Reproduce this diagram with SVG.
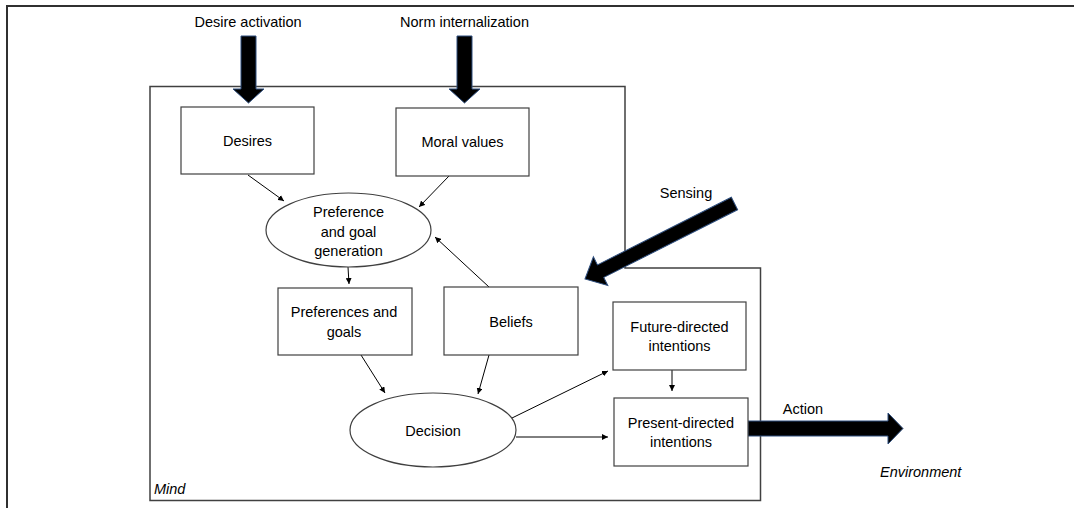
<svg xmlns="http://www.w3.org/2000/svg" width="1074" height="508" viewBox="0 0 1074 508">
  <style>
    text { font-family: "Liberation Sans", Arial, sans-serif; font-size: 14.5px; fill: #000; text-anchor: middle; }
    .it { font-style: italic; text-anchor: start; }
    .box { fill: #fff; stroke: #404040; stroke-width: 1.2; }
    .frame { fill: none; stroke: #404040; stroke-width: 1.5; }
    .outer { fill: none; stroke: #303030; stroke-width: 2; }
    .conn { stroke: #000; stroke-width: 1; fill: none; marker-end: url(#ah); }
    .block { fill: #000; stroke: #2f4f7f; stroke-width: 1; }
  </style>
  <defs>
    <marker id="ah" viewBox="0 0 10 10" refX="10" refY="5" markerWidth="6" markerHeight="6" markerUnits="userSpaceOnUse" orient="auto">
      <path d="M0,0 L10,5 L0,10 z" fill="#000"/>
    </marker>
  </defs>
  <rect width="1074" height="508" fill="#fff"/>
  <g id="outer-frame">
    <path class="outer" d="M7,508 L7,6 L1074,6"/>
  </g>
  <g id="mind">
    <path class="frame" d="M150,86.5 L625,86.5 L625,268 L760.5,268 L760.5,500.5 L150,500.5 Z"/>
    <text class="it" x="154" y="494">Mind</text>
  </g>
  <g id="environment">
    <text class="it" x="880" y="477">Environment</text>
  </g>
  <g id="desire-activation">
    <text x="248" y="27">Desire activation</text>
    <path class="block" d="M241,36 L256,36 L256,89 L264,89 L248.5,103 L233,89 L241,89 Z"/>
  </g>
  <g id="norm-internalization">
    <text x="464.5" y="27">Norm internalization</text>
    <path class="block" d="M457,36 L472,36 L472,89 L480,89 L464.5,103 L449,89 L457,89 Z"/>
  </g>
  <g id="sensing">
    <text x="686" y="198">Sensing</text>
    <path class="block" transform="translate(734.5,203.5) rotate(153.2)" d="M0,-7 L150,-7 L150,-16 L167.5,0 L150,16 L150,7 L0,7 Z"/>
  </g>
  <g id="action">
    <text x="803" y="414">Action</text>
    <path class="block" d="M748,421 L888,421 L888,413 L903,428.5 L888,444 L888,436 L748,436 Z"/>
  </g>
  <g id="connectors">
    <line class="conn" x1="248" y1="175" x2="284" y2="201"/>
    <line class="conn" x1="449" y1="176" x2="419" y2="207"/>
    <line class="conn" x1="489" y1="287" x2="435" y2="237"/>
    <line class="conn" x1="348" y1="267" x2="349" y2="284"/>
    <line class="conn" x1="361" y1="355" x2="385" y2="393"/>
    <line class="conn" x1="489" y1="355" x2="478" y2="394"/>
    <line class="conn" x1="512" y1="418" x2="608" y2="371"/>
    <line class="conn" x1="516" y1="437" x2="608" y2="437"/>
    <line class="conn" x1="672" y1="370" x2="672" y2="391"/>
  </g>
  <g id="desires">
    <rect class="box" x="181" y="107" width="133" height="67"/>
    <text x="247.5" y="145.5">Desires</text>
  </g>
  <g id="moral-values">
    <rect class="box" x="396" y="108" width="133" height="68"/>
    <text x="462.5" y="147">Moral values</text>
  </g>
  <g id="preference-goal-generation">
    <ellipse class="box" cx="348.5" cy="230" rx="82.5" ry="37"/>
    <text x="348.5" y="217">Preference</text>
    <text x="348.5" y="236.5">and goal</text>
    <text x="348.5" y="256">generation</text>
  </g>
  <g id="preferences-goals">
    <rect class="box" x="278" y="288" width="134" height="67"/>
    <text x="344" y="317">Preferences and</text>
    <text x="344" y="337">goals</text>
  </g>
  <g id="beliefs">
    <rect class="box" x="444" y="287" width="134" height="68"/>
    <text x="511" y="327">Beliefs</text>
  </g>
  <g id="decision">
    <ellipse class="box" cx="433" cy="430" rx="83" ry="37"/>
    <text x="433" y="436">Decision</text>
  </g>
  <g id="future-directed">
    <rect class="box" x="613" y="302" width="133" height="68"/>
    <text x="679.5" y="332">Future-directed</text>
    <text x="679.5" y="351">intentions</text>
  </g>
  <g id="present-directed">
    <rect class="box" x="614" y="398" width="134" height="68"/>
    <text x="681" y="428">Present-directed</text>
    <text x="681" y="447">intentions</text>
  </g>
</svg>
